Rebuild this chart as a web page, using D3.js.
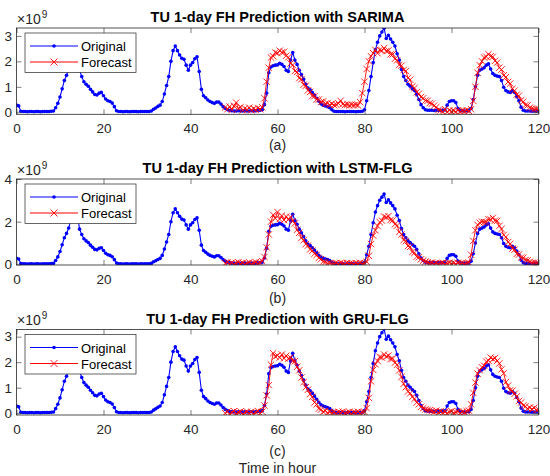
<!DOCTYPE html>
<html><head><meta charset="utf-8">
<script src="https://cdn.jsdelivr.net/npm/d3@7"></script>
<style>
body{margin:0;background:#fff}
svg{display:block}
text{font-family:"Liberation Sans",Arial,Helvetica,sans-serif}
</style>
</head><body>
<svg id="chart" width="550" height="476"></svg>
<script>
// ---------------- DATA ----------------
const originalStartHour = 0;
const forecastStartHour = 48;
const hourStep = 0.5;

const original = [
  0.28,0.25,0.04,0.03,0.03,0.02,0.03,0.03,0.02,0.03,
  0.03,0.02,0.03,0.03,0.03,0.03,0.04,0.05,0.18,0.35,
  0.6,0.92,1.25,1.45,1.7,2.1,2.35,2.45,2.3,1.65,
  1.4,1.2,1.1,1.02,0.9,0.8,0.7,0.68,0.75,0.78,
  0.65,0.52,0.45,0.42,0.36,0.22,0.06,0.03,0.03,0.02,
  0.03,0.03,0.02,0.03,0.03,0.03,0.02,0.03,0.03,0.03,
  0.03,0.03,0.05,0.12,0.17,0.23,0.28,0.42,0.72,1.05,
  1.4,2.0,2.42,2.6,2.42,2.25,2.12,2.08,1.85,1.65,
  1.85,1.95,2.1,2.18,1.6,0.9,0.65,0.57,0.48,0.42,
  0.38,0.35,0.4,0.4,0.32,0.22,0.15,0.1,0.07,0.06,
  0.05,0.05,0.06,0.05,0.05,0.06,0.05,0.05,0.06,0.05,
  0.06,0.07,0.08,0.1,0.3,0.75,1.55,1.78,1.83,1.85,
  1.86,1.92,1.88,1.8,1.65,1.6,2.05,2.35,2.05,1.88,
  1.65,1.48,1.3,1.1,0.95,0.88,0.78,0.67,0.55,0.43,
  0.33,0.28,0.25,0.22,0.18,0.1,0.04,0.03,0.03,0.03,
  0.03,0.02,0.03,0.03,0.03,0.03,0.02,0.03,0.03,0.04,
  0.1,0.45,0.85,1.4,1.95,2.45,2.75,3.0,3.15,3.3,
  2.9,3.02,2.88,2.75,2.6,2.3,2.05,1.68,1.4,1.25,
  1.1,1.02,0.92,0.85,0.7,0.5,0.3,0.18,0.1,0.08,
  0.08,0.08,0.07,0.08,0.08,0.08,0.08,0.09,0.28,0.42,
  0.45,0.45,0.38,0.15,0.06,0.06,0.05,0.06,0.06,0.15,
  0.5,1.0,1.45,1.65,1.7,1.75,1.85,1.9,1.7,1.52,
  1.45,1.42,1.4,1.25,0.98,0.85,0.8,0.78,0.85,0.78,
  0.62,0.45,0.2,0.08,0.05,0.05,0.05,0.04,0.05,0.05,
  0.05
];

const sarimaForecast = [
  0.2,0.12,0.22,0.1,0.25,0.38,0.15,0.2,0.08,0.15,
  0.1,0.18,0.08,0.14,0.1,0.16,0.12,0.2,0.55,1.2,
  1.75,2.15,2.2,2.35,2.32,2.42,2.35,2.38,2.22,2.16,
  1.92,1.86,1.62,1.58,1.34,1.3,1.08,1.04,0.86,0.8,
  0.64,0.63,0.5,0.5,0.4,0.43,0.33,0.36,0.29,0.33,
  0.28,0.3,0.35,0.45,0.32,0.28,0.3,0.27,0.3,0.28,
  0.3,0.27,0.4,0.75,1.2,1.7,2.0,2.2,2.32,2.45,
  2.32,2.45,2.42,2.52,2.4,2.43,2.27,2.28,2.1,2.04,
  1.86,1.83,1.66,1.62,1.35,1.28,1.02,0.95,0.79,0.73,
  0.6,0.55,0.46,0.45,0.36,0.34,0.26,0.2,0.09,0.07,
  0.02,0.12,0.0,0.08,0.03,0.06,0.02,0.08,0.03,0.06,
  0.04,0.08,0.05,0.12,0.45,1.0,1.55,1.85,2.0,2.15,
  2.18,2.28,2.2,2.18,2.02,1.95,1.75,1.68,1.45,1.38,
  1.19,1.13,0.92,0.85,0.69,0.65,0.47,0.41,0.28,0.27,
  0.18,0.15,0.12,0.13,0.1
];

const lstmForecast = [
  0.05,0.1,0.02,0.08,0.0,0.06,0.1,0.03,0.07,0.0,
  0.05,0.09,0.02,0.06,0.1,0.04,0.08,0.15,0.35,0.8,
  1.4,2.0,2.32,2.15,2.45,2.12,2.28,2.08,2.24,2.1,
  2.22,2.02,1.92,1.62,1.48,1.24,1.13,0.95,0.88,0.7,
  0.64,0.5,0.44,0.3,0.24,0.13,0.11,0.05,0.06,0.03,
  0.03,0.06,0.02,0.07,0.04,0.01,0.06,0.03,0.05,0.02,
  0.06,0.03,0.07,0.03,0.06,0.12,0.4,0.95,1.35,1.6,
  1.8,1.98,2.05,2.24,2.2,2.26,2.08,2.06,1.88,1.82,
  1.52,1.4,1.14,1.09,0.86,0.82,0.58,0.54,0.36,0.33,
  0.24,0.18,0.13,0.1,0.06,0.08,0.03,0.06,0.02,0.05,
  0.07,0.02,0.05,0.08,0.03,0.06,0.02,0.07,0.04,0.05,
  0.02,0.06,0.08,0.45,1.1,1.6,1.85,1.95,2.0,1.98,
  1.98,2.12,2.1,2.18,2.05,2.04,1.8,1.66,1.38,1.29,
  1.04,0.96,0.74,0.69,0.49,0.46,0.32,0.31,0.2,0.19,
  0.12,0.08,0.08,0.06,0.05
];

const gruForecast = [
  0.0,0.06,-0.03,0.04,0.08,-0.02,0.03,0.07,-0.04,0.02,
  0.06,0.0,0.05,-0.03,0.04,0.08,0.0,0.06,0.3,0.7,
  1.1,1.9,2.35,2.22,2.26,2.18,2.3,2.15,2.25,2.14,
  2.18,2.05,2.04,1.82,1.68,1.4,1.22,1.02,0.92,0.75,
  0.64,0.42,0.35,0.18,0.14,0.06,0.1,0.01,0.05,0.02,
  0.04,-0.01,0.05,0.02,0.06,0.0,0.03,0.05,-0.02,0.04,
  0.02,0.06,0.0,0.04,0.05,0.2,0.6,1.25,1.7,1.92,
  2.05,2.2,2.18,2.3,2.22,2.26,2.12,2.14,1.98,1.9,
  1.68,1.42,1.15,1.02,0.85,0.78,0.64,0.56,0.42,0.35,
  0.25,0.2,0.15,0.13,0.12,0.09,0.06,0.1,0.03,0.07,
  0.02,0.06,0.0,0.05,0.08,0.01,0.04,0.07,0.0,0.05,
  0.03,0.08,0.1,0.35,0.8,1.2,1.55,1.68,1.8,1.86,
  2.02,2.06,2.18,2.12,2.16,2.05,1.95,1.72,1.56,1.22,
  1.08,0.9,0.88,0.76,0.66,0.48,0.42,0.3,0.27,0.18,
  0.22,0.16,0.21,0.12,0.14
];

const titles = [
  "TU 1-day FH Prediction with SARIMA",
  "TU 1-day FH Prediction with LSTM-FLG",
  "TU 1-day FH Prediction with GRU-FLG"
];
const subLabels = ["(a)", "(b)", "(c)"];
const forecasts = [sarimaForecast, lstmForecast, gruForecast];
const xTicks = [0, 20, 40, 60, 80, 100, 120];
const yTickSets = [[0, 1, 2, 3], [0, 2, 4], [0, 1, 2, 3]];
const yDomains = [[-0.08, 3.31], [-0.03, 4], [-0.07, 3.28]];
const legendLabels = ["Original", "Forecast"];
const xLabel = "Time in hour";

// ---------------- LAYOUT ----------------
const layout = [
  {top: 28,    bottom: 114.3, sub: 150},
  {top: 179,   bottom: 265,   sub: 303},
  {top: 329.5, bottom: 415,   sub: 456}
];
const axisColor = "#262626";
const left = 16.5, right = 538.5;

const svg = d3.select("#chart");
const x = d3.scaleLinear().domain([0, 120]).range([left, right]);

const toPoints = (arr, start) => arr.map((v, i) => ({h: start + i * hourStep, v}));
const origPts = toPoints(original, originalStartHour);

layout.forEach((L, pi) => {
  const y = d3.scaleLinear().domain(yDomains[pi]).range([L.bottom, L.top]);
  const g = svg.append("g");
  const clipId = "clip" + pi;
  svg.append("clipPath").attr("id", clipId).append("rect")
    .attr("x", left).attr("y", L.top).attr("width", right - left).attr("height", L.bottom - L.top);

  const plot = g.append("g").attr("clip-path", `url(#${clipId})`);
  const line = d3.line().x(d => x(d.h)).y(d => y(d.v));

  // original
  plot.append("path").datum(origPts).attr("d", line)
    .attr("fill", "none").attr("stroke", "#0000ff").attr("stroke-width", 1.1);
  plot.append("g").selectAll("circle").data(origPts).join("circle")
    .attr("cx", d => x(d.h)).attr("cy", d => y(d.v)).attr("r", 1.8).attr("fill", "#0000ff");

  // forecast
  const fPts = toPoints(forecasts[pi], forecastStartHour);
  plot.append("path").datum(fPts).attr("d", line)
    .attr("fill", "none").attr("stroke", "#ff0000").attr("stroke-width", 0.9);
  plot.append("g").selectAll("path").data(fPts).join("path")
    .attr("transform", d => `translate(${x(d.h)},${y(d.v)})`)
    .attr("d", "M-3.2,-3.2L3.2,3.2M-3.2,3.2L3.2,-3.2")
    .attr("stroke", "#ff0000").attr("stroke-width", 0.85).attr("fill", "none");

  // axes
  const styleAxis = sel => {
    sel.select(".domain").remove();
    sel.selectAll("line").attr("stroke", axisColor).attr("stroke-width", 0.6);
    sel.selectAll("text").attr("fill", axisColor).style("font-size", "13.5px")
      .style("font-family", '"Liberation Sans",Arial,sans-serif');
  };
  const fmt = d3.format("d");
  g.append("g").attr("transform", `translate(0,${L.bottom})`)
    .call(d3.axisBottom(x).tickValues(xTicks).tickFormat(fmt).tickSizeInner(-5).tickSizeOuter(0).tickPadding(9))
    .call(styleAxis);
  g.append("g").attr("transform", `translate(0,${L.top})`)
    .call(d3.axisTop(x).tickValues(xTicks).tickSizeInner(-5).tickSizeOuter(0).tickFormat(""))
    .call(styleAxis);
  g.append("g").attr("transform", `translate(${left},0)`)
    .call(d3.axisLeft(y).tickValues(yTickSets[pi]).tickFormat(fmt).tickSizeInner(-5).tickSizeOuter(0).tickPadding(4.5))
    .call(styleAxis);
  g.append("g").attr("transform", `translate(${right},0)`)
    .call(d3.axisRight(y).tickValues(yTickSets[pi]).tickSizeInner(-5).tickSizeOuter(0).tickFormat(""))
    .call(styleAxis);
  g.append("rect").attr("x", left).attr("y", L.top).attr("width", right - left).attr("height", L.bottom - L.top)
    .attr("fill", "none").attr("stroke", axisColor).attr("stroke-width", 0.8);

  // exponent
  const ex = g.append("text").attr("x", 17).attr("y", L.top - 4.5).attr("fill", axisColor)
    .style("font-size", "14px");
  ex.append("tspan").text("\u00d710");
  ex.append("tspan").attr("dy", -6).attr("dx", 1).style("font-size", "10px").text("9");

  // title
  g.append("text").attr("x", (left + right) / 2).attr("y", L.top - 6)
    .attr("text-anchor", "middle").style("font-size", "14.5px").style("font-weight", "bold")
    .attr("fill", "#000").text(titles[pi]);

  // sub label
  g.append("text").attr("x", (left + right) / 2).attr("y", L.sub)
    .attr("text-anchor", "middle").style("font-size", "14px").attr("fill", axisColor).text(subLabels[pi]);

  // legend
  const lg = g.append("g").attr("transform", `translate(25,${L.top + 5})`);
  lg.append("rect").attr("width", 111).attr("height", 39.5)
    .attr("fill", "#fff").attr("stroke", axisColor).attr("stroke-width", 0.7);
  const rows = [{c: "#0000ff", m: "dot"}, {c: "#ff0000", m: "x"}];
  rows.forEach((r, i) => {
    const yy = 13 + i * 16;
    lg.append("line").attr("x1", 5).attr("x2", 53).attr("y1", yy).attr("y2", yy)
      .attr("stroke", r.c).attr("stroke-width", 1);
    if (r.m === "dot") {
      lg.append("circle").attr("cx", 29).attr("cy", yy).attr("r", 1.8).attr("fill", r.c);
    } else {
      lg.append("path").attr("transform", `translate(29,${yy})`)
        .attr("d", "M-3.5,-3.5L3.5,3.5M-3.5,3.5L3.5,-3.5").attr("stroke", r.c).attr("stroke-width", 0.9);
    }
    lg.append("text").attr("x", 56).attr("y", yy + 5).style("font-size", "13px")
      .attr("fill", "#000").text(legendLabels[i]);
  });
});

svg.append("text").attr("x", (left + right) / 2).attr("y", 473)
  .attr("text-anchor", "middle").style("font-size", "14px").attr("fill", axisColor).text(xLabel);
</script>
</body></html>
